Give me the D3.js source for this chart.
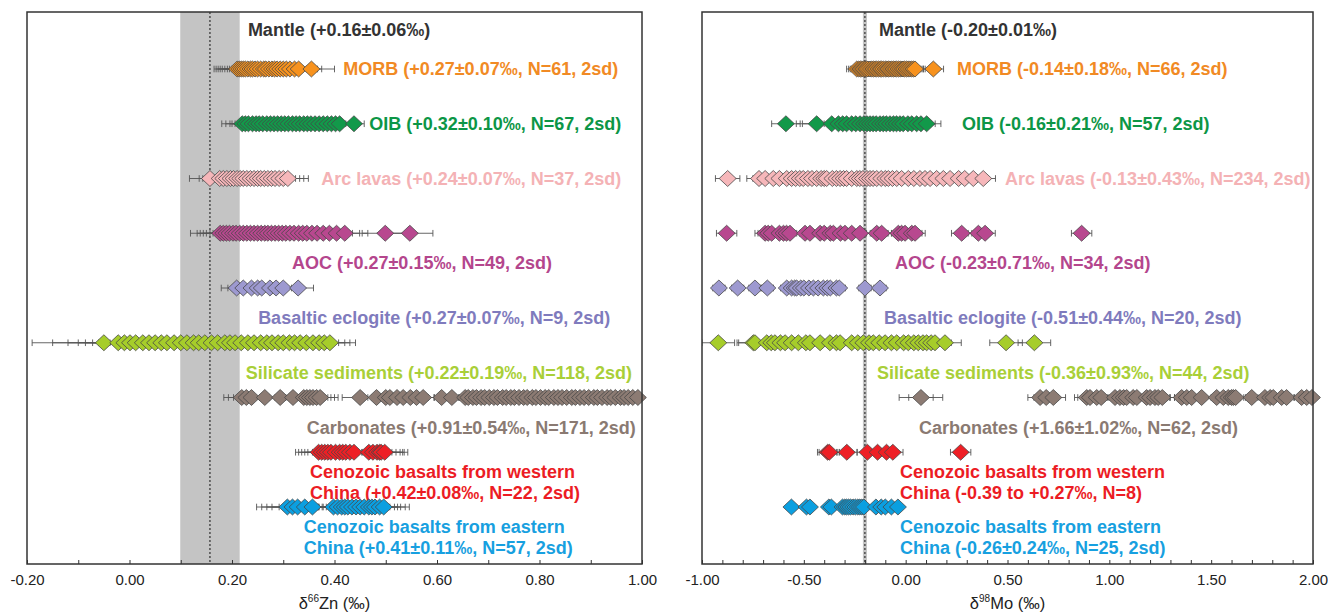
<!DOCTYPE html>
<html lang="en">
<head>
<meta charset="UTF-8">
<title>Zn and Mo isotopes of reservoirs</title>
<script src="https://d3js.org/d3.v7.min.js"></script>
<style>
  body { margin: 0; background: #fff; }
  svg { display: block; font-family: "Liberation Sans", Arial, sans-serif; }
  .lbl { font-weight: bold; font-size: 18px; }
  .tick text { font-size: 15px; fill: #222; }
  .title { font-size: 16.5px; fill: #222; }
</style>
</head>
<body>
<svg id="chart" width="1328" height="612"></svg>
<script>
const categories = ["MORB", "OIB", "Arc lavas", "AOC", "Basaltic eclogite", "Silicate sediments",
  "Carbonates", "Cenozoic W China", "Cenozoic E China"];

// ---- δ66Zn ----
const znMantle = [0.157, 0.058];
const znMORB = [0.210, 0.214, 0.218, 0.222, 0.226, 0.231, 0.236, 0.240, 0.245, 0.250, 0.256, 0.262,
  0.266, 0.272, 0.278, 0.283, 0.288, 0.294, 0.300, 0.306, 0.313, 0.322, 0.330, 0.355];
const znOIB = [0.220, 0.226, 0.232, 0.240, 0.247, 0.253, 0.260, 0.268, 0.275, 0.282, 0.289, 0.296,
  0.303, 0.310, 0.318, 0.325, 0.332, 0.340, 0.347, 0.354, 0.362, 0.370, 0.378, 0.386, 0.394, 0.402, 0.410, 0.438];
const znArc = [0.157, 0.176, 0.183, 0.190, 0.197, 0.203, 0.210, 0.216, 0.222, 0.229, 0.236, 0.243,
  0.250, 0.256, 0.263, 0.270, 0.277, 0.284, 0.292, 0.300, 0.309];
const znAOC = [0.177, 0.183, 0.189, 0.195, 0.202, 0.208, 0.215, 0.222, 0.229, 0.236, 0.243, 0.250,
  0.257, 0.264, 0.270, 0.277, 0.284, 0.291, 0.298, 0.305, 0.313, 0.321, 0.330, 0.338, 0.346, 0.356,
  0.366, 0.378, 0.390, 0.404, 0.420, 0.499, 0.547];
const znEclogite = [0.209, 0.222, 0.238, 0.250, 0.258, 0.274, 0.286, 0.300, 0.329];
const znSilicate = [-0.050, -0.022, -0.010, 0.001, 0.012, 0.026, 0.038, 0.050, 0.062, 0.073, 0.087,
  0.100, 0.112, 0.125, 0.135, 0.147, 0.160, 0.172, 0.186, 0.196, 0.206, 0.218, 0.231, 0.243, 0.256,
  0.268, 0.278, 0.290, 0.300, 0.312, 0.322, 0.333, 0.345, 0.358, 0.370, 0.380, 0.391];
const znCarbonates = [0.219, 0.228, 0.238, 0.264, 0.294, 0.319, 0.340, 0.346, 0.352, 0.358, 0.365,
  0.372, 0.450, 0.482, 0.500, 0.508, 0.522, 0.534, 0.548, 0.560, 0.573, 0.609, 0.629, 0.655, 0.661,
  0.670, 0.677, 0.686, 0.693, 0.702, 0.711, 0.718, 0.728, 0.735, 0.744, 0.751, 0.760, 0.769, 0.776,
  0.786, 0.793, 0.802, 0.811, 0.818, 0.828, 0.836, 0.844, 0.853, 0.863, 0.870, 0.879, 0.887, 0.896,
  0.906, 0.913, 0.922, 0.932, 0.939, 0.948, 0.958, 0.965, 0.973, 0.982, 0.992];
const znCenW = [0.369, 0.375, 0.381, 0.387, 0.393, 0.402, 0.410, 0.416, 0.422, 0.430, 0.438, 0.467,
  0.475, 0.483, 0.488, 0.491, 0.498];
const znCenE = [0.308, 0.318, 0.328, 0.342, 0.357, 0.398, 0.406, 0.414, 0.420, 0.426, 0.434, 0.442,
  0.450, 0.458, 0.467, 0.473, 0.479, 0.488, 0.496];
const znErr = [0.045, 0.02, 0.04, 0.045, 0.03, 0.05, 0.035, 0.045, 0.05];
const znWideErr = [[5, -0.050, 0.140], [5, -0.022, 0.128], [5, 0.001, 0.121], [5, 0.026, 0.112],
  [3, 0.177, 0.058], [8, 0.308, 0.06], [1, 0.220, 0.040], [1, 0.226, 0.038], [1, 0.232, 0.036]];
const znTicks = [-0.20, 0.00, 0.20, 0.40, 0.60, 0.80, 1.00];
const znTickLabels = ["-0.20", "0.00", "0.20", "0.40", "0.60", "0.80", "1.00"];
const znMantleLabel = "Mantle (+0.16±0.06‰)";
const znLabels = [
  "MORB (+0.27±0.07‰, N=61, 2sd)",
  "OIB (+0.32±0.10‰, N=67, 2sd)",
  "Arc lavas (+0.24±0.07‰, N=37, 2sd)",
  "AOC (+0.27±0.15‰, N=49, 2sd)",
  "Basaltic eclogite (+0.27±0.07‰, N=9, 2sd)",
  "Silicate sediments (+0.22±0.19‰, N=118, 2sd)",
  "Carbonates (+0.91±0.54‰, N=171, 2sd)",
  ["Cenozoic basalts from western", "China (+0.42±0.08‰, N=22, 2sd)"],
  ["Cenozoic basalts from eastern", "China (+0.41±0.11‰, N=57, 2sd)"]
];
const znLabelAt = [0.417, 0.468, 0.374, 0.317, 0.251, 0.227, 0.346, 0.352, 0.340];
const znMantleLabelAt = 0.231;

// ---- δ98Mo ----
const moMantle = [-0.20, 0.01];
const moMORB = [-0.240, -0.230, -0.222, -0.215, -0.208, -0.200, -0.192, -0.185, -0.175, -0.166,
  -0.158, -0.150, -0.142, -0.133, -0.125, -0.118, -0.110, -0.100, -0.092, -0.085, -0.077, -0.068,
  -0.060, -0.052, -0.044, -0.035, -0.027, -0.018, -0.013, -0.005, 0.004, 0.012, 0.021, 0.030, 0.038,
  0.046, 0.136];
const moOIB = [-0.588, -0.437, -0.363, -0.330, -0.309, -0.290, -0.265, -0.245, -0.224, -0.205,
  -0.190, -0.175, -0.160, -0.145, -0.126, -0.110, -0.095, -0.077, -0.060, -0.045, -0.028, -0.012,
  0.011, 0.030, 0.054, 0.075, 0.103];
const moArc = [-0.874, -0.720, -0.690, -0.650, -0.620, -0.584, -0.560, -0.540, -0.520, -0.503,
  -0.480, -0.460, -0.437, -0.415, -0.400, -0.388, -0.360, -0.340, -0.322, -0.305, -0.290, -0.265,
  -0.240, -0.225, -0.210, -0.190, -0.175, -0.160, -0.142, -0.120, -0.100, -0.085, -0.065, -0.044,
  -0.020, 0.013, 0.040, 0.070, 0.095, 0.120, 0.152, 0.185, 0.218, 0.260, 0.290, 0.332, 0.381];
const moAOC = [-0.879, -0.690, -0.675, -0.658, -0.620, -0.600, -0.585, -0.568, -0.494, -0.470,
  -0.420, -0.400, -0.370, -0.355, -0.320, -0.298, -0.265, -0.224, -0.142, -0.118, -0.036, -0.020,
  -0.003, 0.030, 0.046, 0.275, 0.357, 0.390, 0.864];
const moEclogite = [-0.917, -0.825, -0.740, -0.679, -0.584, -0.560, -0.545, -0.535, -0.515, -0.500,
  -0.475, -0.453, -0.430, -0.404, -0.385, -0.370, -0.340, -0.326, -0.200, -0.126];
const moSilicate = [-0.920, -0.748, -0.740, -0.682, -0.660, -0.642, -0.615, -0.592, -0.560, -0.527,
  -0.490, -0.470, -0.420, -0.372, -0.340, -0.322, -0.265, -0.235, -0.208, -0.180, -0.159, -0.130,
  -0.101, -0.070, -0.044, -0.010, 0.013, 0.040, 0.062, 0.085, 0.103, 0.125, 0.144, 0.193, 0.493, 0.632];
const moCarbonates = [0.075, 0.660, 0.690, 0.725, 0.889, 0.905, 0.938, 0.960, 1.028, 1.052, 1.070,
  1.085, 1.117, 1.135, 1.183, 1.200, 1.224, 1.240, 1.260, 1.355, 1.380, 1.404, 1.453, 1.527, 1.560,
  1.584, 1.600, 1.609, 1.620, 1.699, 1.764, 1.790, 1.805, 1.846, 1.870, 1.944, 1.969, 1.995];
const moCenW = [-0.383, -0.375, -0.289, -0.188, -0.138, -0.094, -0.063, 0.270];
const moCenE = [-0.561, -0.487, -0.470, -0.377, -0.365, -0.310, -0.299, -0.290, -0.280, -0.270,
  -0.258, -0.247, -0.235, -0.225, -0.215, -0.205, -0.146, -0.120, -0.100, -0.070, -0.038];
const moErr = [0.05, 0.07, 0.06, 0.05, 0.03, 0.08, 0.06, 0.05, 0];
const moWideErr = [[1, -0.437, 0.10], [6, 0.075, 0.107]];
const moTicks = [-1.00, -0.50, 0.00, 0.50, 1.00, 1.50, 2.00];
const moTickLabels = ["-1.00", "-0.50", "0.00", "0.50", "1.00", "1.50", "2.00"];
const moMantleLabel = "Mantle (-0.20±0.01‰)";
const moLabels = [
  "MORB (-0.14±0.18‰, N=66, 2sd)",
  "OIB (-0.16±0.21‰, N=57, 2sd)",
  "Arc lavas (-0.13±0.43‰, N=234, 2sd)",
  "AOC (-0.23±0.71‰, N=34, 2sd)",
  "Basaltic eclogite (-0.51±0.44‰, N=20, 2sd)",
  "Silicate sediments (-0.36±0.93‰, N=44, 2sd)",
  "Carbonates (+1.66±1.02‰, N=62, 2sd)",
  ["Cenozoic basalts from western", "China (-0.39 to +0.27‰, N=8)"],
  ["Cenozoic basalts from eastern", "China (-0.26±0.24‰, N=25, 2sd)"]
];
const moLabelAt = [0.252, 0.277, 0.488, -0.052, -0.106, -0.141, 0.065, -0.028, -0.028];
const moMantleLabelAt = -0.131;

// colours per category (fill, text)
const fills = ["#f7921e", "#12994a", "#f6b7ba", "#b8488f", "#9d99d0", "#a6cd2a", "#8c7b73", "#ee1f25", "#0b9fe0"];
const textColors = ["#f18a24", "#0c9646", "#f4b2b5", "#b4468d", "#7f7bbd", "#a9cf38", "#8a7a72", "#ec1c24", "#17a0e0"];

const svg = d3.select("#chart");
const plotTop = 12, plotBottom = 564;
const rowY = d3.scaleLinear().domain([0, 8]).range([69, 507]);
const diamond = d3.symbol(d3.symbolSquare, 144);

function drawPanel(p, id) {
  const x = d3.scaleLinear().domain(p.domain).range(p.range);
  const g = svg.append("g");

  g.append("clipPath").attr("id", "clip-" + id).append("rect")
    .attr("x", p.range[0]).attr("y", plotTop)
    .attr("width", p.range[1] - p.range[0]).attr("height", plotBottom - plotTop);

  // mantle band + dotted line
  g.append("rect")
    .attr("x", x(p.mantle[0] - p.mantle[1]))
    .attr("y", plotTop)
    .attr("width", x(p.mantle[0] + p.mantle[1]) - x(p.mantle[0] - p.mantle[1]))
    .attr("height", plotBottom - plotTop)
    .attr("fill", "#c4c4c4");
  g.append("line")
    .attr("x1", x(p.mantle[0])).attr("x2", x(p.mantle[0]))
    .attr("y1", plotTop).attr("y2", plotBottom)
    .attr("stroke", "#111").attr("stroke-width", 1).attr("stroke-dasharray", "2,2");

  g.append("text").attr("class", "lbl")
    .attr("x", x(p.mantleLabelAt)).attr("y", 36)
    .attr("fill", "#333").text(p.mantleLabel);

  p.series.forEach((vals, i) => {
    const y = rowY(i);
    const row = g.append("g");
    const bars = vals.map(v => [v, p.err[i]]).filter(d => d[1] > 0)
      .concat(p.wide.filter(d => d[0] === i).map(d => [d[1], d[2]]));
    const eb = row.append("g").attr("clip-path", `url(#clip-${id})`)
      .selectAll("g").data(bars).enter().append("g")
      .attr("stroke", "#555").attr("stroke-width", 0.9);
    eb.append("line").attr("x1", d => x(d[0] - d[1])).attr("x2", d => x(d[0] + d[1]))
      .attr("y1", y).attr("y2", y);
    eb.append("line").attr("x1", d => x(d[0] - d[1])).attr("x2", d => x(d[0] - d[1]))
      .attr("y1", y - 3.3).attr("y2", y + 3.3);
    eb.append("line").attr("x1", d => x(d[0] + d[1])).attr("x2", d => x(d[0] + d[1]))
      .attr("y1", y - 3.3).attr("y2", y + 3.3);

    row.selectAll("path").data(vals).enter().append("path")
      .attr("d", diamond)
      .attr("transform", v => `translate(${x(v)},${y}) scale(1,0.94) rotate(45)`)
      .attr("fill", fills[i])
      .attr("stroke", "#474747").attr("stroke-width", 0.75);

    const lab = p.labels[i];
    const t = g.append("text").attr("class", "lbl").attr("fill", textColors[i])
      .attr("x", x(p.labelAt[i]));
    if (Array.isArray(lab)) {
      t.attr("y", y + 26);
      t.append("tspan").attr("x", x(p.labelAt[i])).text(lab[0]);
      t.append("tspan").attr("x", x(p.labelAt[i])).attr("dy", 21).text(lab[1]);
    } else if (i < 3) {
      t.attr("y", y + 6).text(lab);
    } else {
      t.attr("y", y + 36).text(lab);
    }
  });

  // axis with inward ticks every 0.1
  const minor = d3.range(Math.round(p.domain[0] * 10), Math.round(p.domain[1] * 10) + 1).map(k => k / 10);
  const axis = d3.axisBottom(x).tickValues(minor).tickSize(-4).tickPadding(10)
    .tickFormat(v => {
      const k = p.ticks.findIndex(t => Math.abs(t - v) < 1e-9);
      return k >= 0 ? p.tickLabels[k] : "";
    });
  const ax = g.append("g").attr("transform", `translate(0,${plotBottom})`).call(axis);
  ax.select(".domain").remove();
  ax.selectAll(".tick line").attr("stroke", "#333");

  // frame
  g.append("rect").attr("x", p.range[0]).attr("y", plotTop)
    .attr("width", p.range[1] - p.range[0]).attr("height", plotBottom - plotTop)
    .attr("fill", "none").attr("stroke", "#333").attr("stroke-width", 1.5);

  const title = g.append("text").attr("class", "title")
    .attr("x", (p.range[0] + p.range[1]) / 2).attr("y", 609).attr("text-anchor", "middle");
  title.append("tspan").text("δ");
  title.append("tspan").attr("font-size", 10).attr("dy", -7).text(p.isotope);
  title.append("tspan").attr("dy", 7).text(p.element + " (‰)");
}

drawPanel({
  domain: [-0.2, 1.0], range: [27, 642],
  mantle: znMantle, mantleLabel: znMantleLabel, mantleLabelAt: znMantleLabelAt,
  series: [znMORB, znOIB, znArc, znAOC, znEclogite, znSilicate, znCarbonates, znCenW, znCenE],
  err: znErr, wide: znWideErr, labels: znLabels, labelAt: znLabelAt,
  ticks: znTicks, tickLabels: znTickLabels, isotope: "66", element: "Zn"
}, "zn");

drawPanel({
  domain: [-1.0, 2.0], range: [702, 1313],
  mantle: moMantle, mantleLabel: moMantleLabel, mantleLabelAt: moMantleLabelAt,
  series: [moMORB, moOIB, moArc, moAOC, moEclogite, moSilicate, moCarbonates, moCenW, moCenE],
  err: moErr, wide: moWideErr, labels: moLabels, labelAt: moLabelAt,
  ticks: moTicks, tickLabels: moTickLabels, isotope: "98", element: "Mo"
}, "mo");
</script>
</body>
</html>
